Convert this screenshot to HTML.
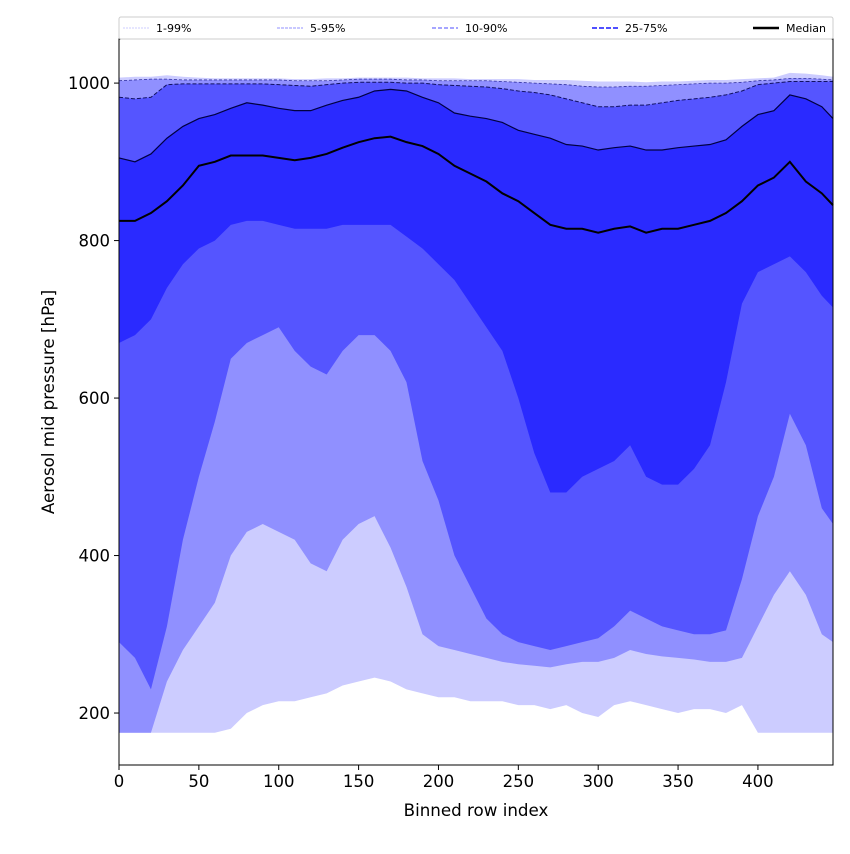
<!DOCTYPE html>
<html><head><meta charset="utf-8"><style>
body{margin:0;background:#fff;font-family:"DejaVu Sans","Liberation Sans",sans-serif;}
svg text{font-family:"DejaVu Sans","Liberation Sans",sans-serif;}
</style></head><body>
<svg id="chart" width="850" height="850" xmlns="http://www.w3.org/2000/svg"></svg>
<script>
const xs=[0,10,20,30,40,50,60,70,80,90,100,110,120,130,140,150,160,170,180,190,200,210,220,230,240,250,260,270,280,290,300,310,320,330,340,350,360,370,380,390,400,410,420,430,440,447];
const p1=[175,175,175,175,175,175,175,180,200,210,215,215,220,225,235,240,245,240,230,225,220,220,215,215,215,210,210,205,210,200,195,210,215,210,205,200,205,205,200,210,175,175,175,175,175,175];
const p5=[175,175,175,240,280,310,340,400,430,440,430,420,390,380,420,440,450,410,360,300,285,280,275,270,265,262,260,258,262,265,265,270,280,275,272,270,268,265,265,270,310,350,380,350,300,290];
const p10=[290,270,230,310,420,500,570,650,670,680,690,660,640,630,660,680,680,660,620,520,470,400,360,320,300,290,285,280,285,290,295,310,330,320,310,305,300,300,305,370,450,500,580,540,460,440];
const p25=[670,680,700,740,770,790,800,820,825,825,820,815,815,815,820,820,820,820,805,790,770,750,720,690,660,600,530,480,480,500,510,520,540,500,490,490,510,540,620,720,760,770,780,760,730,715];
const med=[825,825,835,850,870,895,900,908,908,908,905,902,905,910,918,925,930,932,925,920,910,895,885,875,860,850,835,820,815,815,810,815,818,810,815,815,820,825,835,850,870,880,900,875,860,845];
const p75=[905,900,910,930,945,955,960,968,975,972,968,965,965,972,978,982,990,992,990,982,975,962,958,955,950,940,935,930,922,920,915,918,920,915,915,918,920,922,928,945,960,965,985,980,970,955];
const p90=[982,980,982,998,999,999,999,999,999,999,998,997,996,998,1000,1001,1001,1001,1000,1000,998,997,996,995,993,990,988,985,980,975,970,970,972,972,975,978,980,982,985,990,998,1000,1002,1002,1002,1002];
const p95=[1003,1004,1005,1005,1004,1004,1004,1004,1004,1004,1004,1003,1003,1003,1004,1005,1005,1005,1004,1004,1003,1003,1003,1003,1002,1001,1000,999,998,996,995,995,996,996,997,998,999,1000,1000,1001,1003,1004,1006,1006,1005,1004];
const p99=[1007,1008,1008,1010,1008,1007,1006,1006,1006,1006,1006,1005,1005,1006,1006,1007,1007,1007,1007,1006,1006,1006,1005,1005,1005,1005,1004,1004,1004,1003,1002,1002,1002,1001,1002,1002,1003,1004,1004,1005,1006,1007,1013,1012,1010,1008];
const xticks=[0,50,100,150,200,250,300,350,400];
const yticks=[200,400,600,800,1000];
const L=119,R=833,T=39,B=765,XMAX=447,YMIN=134,YMAX=1056;
const sx=v=>L+(v-0)/XMAX*(R-L);
const sy=v=>B-(v-YMIN)/(YMAX-YMIN)*(B-T);
const svg=document.getElementById('chart');
const NS='http://www.w3.org/2000/svg';
function mk(tag,attrs){const e=document.createElementNS(NS,tag);for(const k in attrs)e.setAttribute(k,attrs[k]);svg.appendChild(e);return e;}
function band(lo,hi,color,name){
  let d='M'+xs.map((x,i)=>sx(x)+','+sy(hi[i])).join('L');
  for(let i=xs.length-1;i>=0;i--)d+='L'+sx(xs[i])+','+sy(lo[i]);
  const e=mk('path',{d:d+'Z',fill:color});
  
  
}
function line(arr,color,w,dash,name){
  const e=mk('path',{d:'M'+xs.map((x,i)=>sx(x)+','+sy(arr[i])).join('L'),fill:'none',stroke:color,'stroke-width':w,'stroke-dasharray':dash});
  
  
}
band(p1,p99,'#ccccff','band-1-99');
band(p5,p95,'#9090ff','band-5-95');
band(p10,p90,'#5555ff','band-10-90');
band(p25,p75,'#2a2aff','band-25-75');
line(p95,'#3030a0',0.8,'3,2','line-p95');
line(p90,'#101060',1,'4,2','line-p90');
line(p75,'#000040',1.2,'none','line-p75');
line(med,'#000',2,'none','median-line');
const fr=mk('rect',{x:L,y:T,width:R-L,height:B-T,fill:'none',stroke:'#000','stroke-width':1});


xticks.forEach(t=>{
  const l=mk('line',{x1:sx(t),x2:sx(t),y1:B,y2:B+5,stroke:'#000'});
  
  
  const tx=mk('text',{x:sx(t),y:B+22,'text-anchor':'middle','font-size':16.5});
  tx.textContent=t;
  
  
});
yticks.forEach(t=>{
  const l=mk('line',{x1:L-5,x2:L,y1:sy(t),y2:sy(t),stroke:'#000'});
  
  
  const tx=mk('text',{x:L-9,y:sy(t)+6,'text-anchor':'end','font-size':16.5});
  tx.textContent=t;
  
  
});
const xt=mk('text',{x:(L+R)/2,y:816,'text-anchor':'middle','font-size':16.7});
xt.textContent='Binned row index';


const yt=mk('text',{x:0,y:0,'text-anchor':'middle','font-size':16.7,transform:'translate(54,402) rotate(-90)'});
yt.textContent='Aerosol mid pressure [hPa]';


const lg=mk('rect',{x:119,y:17,width:714,height:22,fill:'#fff',stroke:'#ccc','stroke-width':1,rx:2});


const ent=[['1-99%','#ccccff',1,'2,1',123],['5-95%','#9090ff',1,'3,1',277],['10-90%','#7070ff',1.3,'4,2',432],['25-75%','#5050ff',2,'5,2',592],['Median','#000',2.5,'none',753]];
ent.forEach(e=>{
  const l=mk('line',{x1:e[4],x2:e[4]+26,y1:28,y2:28,stroke:e[1],'stroke-width':e[2],'stroke-dasharray':e[3]});
  
  
  const t=mk('text',{x:e[4]+33,y:32,'font-size':11});
  t.textContent=e[0];
  
  
});
</script>
</body></html>
